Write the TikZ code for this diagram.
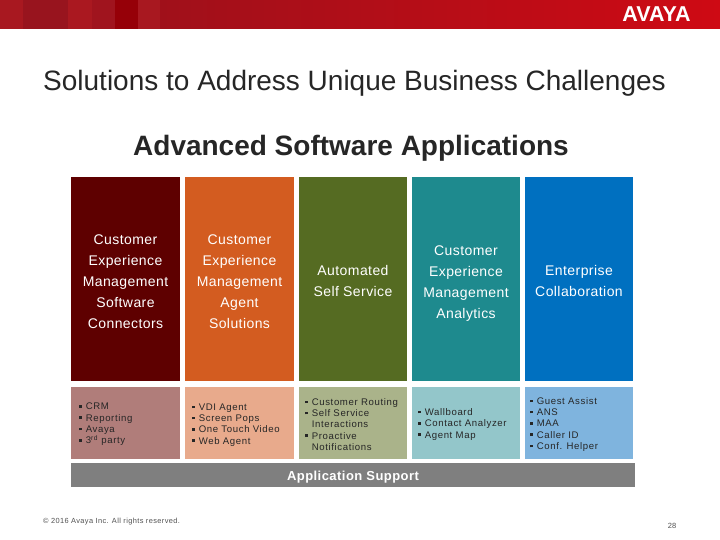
\documentclass[tikz,border=0pt]{standalone}
\usepackage{fontspec}
\setmainfont{Liberation Sans}
\newfontfamily\spaced[LetterSpace=3]{Liberation Sans}
\newfontfamily\spacedbold[LetterSpace=3.5]{Liberation Sans Bold}
\newfontfamily\listfont[LetterSpace=6.5]{Liberation Sans}
\newfontfamily\footfont[LetterSpace=5.3]{Liberation Sans}
\newcommand{\blt}{\rule[2.2pt]{2.6pt}{2.6pt}\hspace{4pt}}
\newcommand{\ind}{\hspace{6.6pt}}
\definecolor{bandA}{HTML}{A81820}\definecolor{bandB}{HTML}{98141E}\definecolor{bandC}{HTML}{AA1820}
\definecolor{bandD}{HTML}{A0141E}\definecolor{bandE}{HTML}{960008}\definecolor{bandF}{HTML}{A0101A}
\definecolor{bandG}{HTML}{CE0A14}
\definecolor{topA}{HTML}{5E0000}\definecolor{topB}{HTML}{D35C20}\definecolor{topC}{HTML}{556B22}
\definecolor{topD}{HTML}{1E8A8E}\definecolor{topE}{HTML}{0070C0}
\definecolor{lowA}{HTML}{B07D7A}\definecolor{lowB}{HTML}{E8AA8C}\definecolor{lowC}{HTML}{AAB38A}
\definecolor{lowD}{HTML}{93C6CA}\definecolor{lowE}{HTML}{7FB4DE}
\definecolor{supp}{HTML}{7F7F7F}\definecolor{ink}{HTML}{262626}
\tikzset{
  x=1pt,y=-1pt,
  topbox/.style={minimum width=#1,minimum height=204pt,inner sep=0pt,anchor=north west},
  lowbox/.style={minimum width=#1,minimum height=72pt,inner sep=0pt,anchor=north west},
  toplabel/.style={text=white,font=\spaced\fontsize{14}{21}\selectfont,align=center,inner sep=0pt},
  listlabel/.style={text=ink,font=\listfont\fontsize{9.6}{11.3}\selectfont,align=left,inner sep=0pt,anchor=west}
}
\begin{document}
\begin{tikzpicture}
\useasboundingbox (0,0) rectangle (720,540);
\fill[white] (0,0) rectangle (720,540);
% header band
\fill[bandA] (0,0) rectangle (23,29);
\fill[bandB] (23,0) rectangle (68,29);
\fill[bandC] (68,0) rectangle (92,29);
\fill[bandD] (92,0) rectangle (115,29);
\fill[bandE] (115,0) rectangle (138,29);
\fill[bandA] (138,0) rectangle (160,29);
\fill[left color=bandF,right color=bandG] (160,0) rectangle (720,29);
\node[text=white,font=\bfseries\fontsize{21.5}{21.5}\selectfont,inner sep=0pt] (logo) at (656.5,14) {AVAYA};
% titles
\node[text=ink,font=\fontsize{28}{32}\selectfont,anchor=west,inner sep=0pt] (title) at (43,83) {Solutions to Address Unique Business Challenges};
\node[text=ink,font=\bfseries\fontsize{28}{32}\selectfont,inner sep=0pt] (sub) at (351,148) {Advanced Software Applications};
% top boxes
\node[topbox=109pt,fill=topA] (a) at (71,177) {};
\node[topbox=109pt,fill=topB] (b) at (185,177) {};
\node[topbox=108pt,fill=topC] (c) at (299,177) {};
\node[topbox=108pt,fill=topD] (d) at (412,177) {};
\node[topbox=108pt,fill=topE] (e) at (525,177) {};
\node[toplabel] (at) at (125.5,282) {Customer\\Experience\\Management\\Software\\Connectors};
\node[toplabel] (bt) at (239.5,282) {Customer\\Experience\\Management\\Agent\\Solutions};
\node[toplabel] (ct) at (353,280.5) {Automated\\Self Service};
\node[toplabel] (dt) at (466,283.5) {Customer\\Experience\\Management\\Analytics};
\node[toplabel] (et) at (579,280.5) {Enterprise\\Collaboration};
% lower boxes
\node[lowbox=109pt,fill=lowA] (la) at (71,387) {};
\node[lowbox=109pt,fill=lowB] (lb) at (185,387) {};
\node[lowbox=108pt,fill=lowC] (lc) at (299,387) {};
\node[lowbox=108pt,fill=lowD] (ld) at (412,387) {};
\node[lowbox=108pt,fill=lowE] (le) at (525,387) {};
\node[listlabel] (lat) at (79,424.5) {\blt CRM\\\blt Reporting\\\blt Avaya\\\blt 3\textsuperscript{rd} party};
\node[listlabel] (lbt) at (192,425) {\blt VDI Agent\\\blt Screen Pops\\\blt One Touch Video\\\blt Web Agent};
\node[listlabel] (lct) at (305,424.5) {\blt Customer Routing\\\blt Self Service\\\ind Interactions\\\blt Proactive\\\ind Notifications};
\node[listlabel] (ldt) at (418,424.5) {\blt Wallboard\\\blt Contact Analyzer\\\blt Agent Map};
\node[listlabel] (let) at (530,424.5) {\blt Guest Assist\\\blt ANS\\\blt MAA\\\blt Caller ID\\\blt Conf. Helper};
% support
\node[fill=supp,minimum width=564pt,minimum height=24pt,inner sep=0pt,anchor=north west] (s) at (71,463) {};
\node[text=white,font=\spacedbold\fontsize{13}{15}\selectfont,inner sep=0pt] (st) at (353,477) {Application Support};
% footer
\node[text=ink!80,font=\footfont\fontsize{7.4}{8}\selectfont,anchor=west,inner sep=0pt] (copy) at (43,522) {© 2016 Avaya Inc. All rights reserved.};
\node[text=ink!80,font=\fontsize{7.5}{8}\selectfont,inner sep=0pt] (pg) at (672,525.5) {28};
\end{tikzpicture}
\end{document}
